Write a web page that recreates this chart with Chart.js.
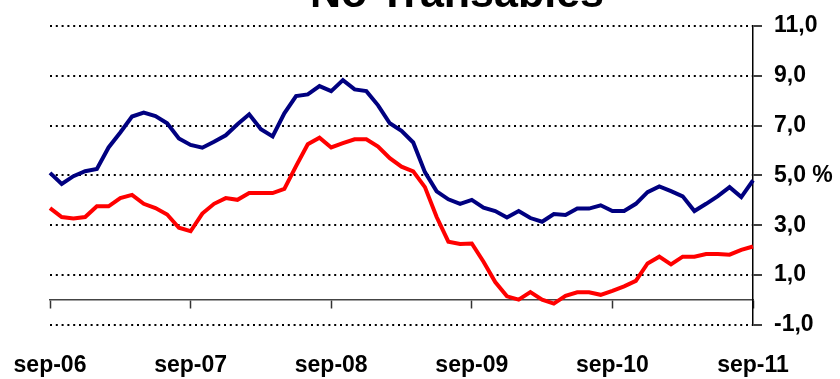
<!DOCTYPE html>
<html lang="es">
  <head>
    <meta charset="utf-8" />
    <script src="https://cdn.jsdelivr.net/npm/chart.js"></script>
    <style>
      html, body { margin: 0; padding: 0; background: #ffffff; }
      #wrap { width: 840px; height: 379px; position: relative; }
    </style>
  </head>
  <body>
    <div id="wrap"><canvas id="chart"></canvas></div>
    <script type="text/javascript">
      // meses sep-06 .. sep-11
      const meses = ['ene', 'feb', 'mar', 'abr', 'may', 'jun', 'jul', 'ago', 'sep', 'oct', 'nov', 'dic'];
      const labels = [];
      for (let i = 0; i <= 60; i++) {
        const m = (8 + i) % 12;
        const a = 6 + Math.floor((8 + i) / 12);
        labels.push(meses[m] + '-' + String(a).padStart(2, '0'));
      }

      // serie azul
      const serieAzul = [
        5.10, 4.66, 4.97, 5.17, 5.26, 6.12, 6.72, 7.36, 7.52, 7.38, 7.09, 6.48,
        6.22, 6.11, 6.35, 6.61, 7.05, 7.45, 6.85, 6.56, 7.49, 8.18, 8.25, 8.58,
        8.38, 8.82, 8.45, 8.38, 7.81, 7.09, 6.79, 6.32, 5.13, 4.36, 4.04, 3.86,
        4.02, 3.71, 3.57, 3.31, 3.57, 3.29, 3.14, 3.45, 3.41, 3.67, 3.67, 3.80,
        3.57, 3.57, 3.86, 4.33, 4.56, 4.37, 4.16, 3.57, 3.86, 4.17, 4.53, 4.13,
        4.80
      ];
      // serie roja
      const serieRoja = [
        3.69, 3.33, 3.27, 3.33, 3.76, 3.76, 4.09, 4.22, 3.86, 3.69, 3.43, 2.90,
        2.76, 3.47, 3.86, 4.09, 4.02, 4.29, 4.29, 4.29, 4.46, 5.37, 6.25, 6.51,
        6.12, 6.29, 6.45, 6.45, 6.16, 5.69, 5.35, 5.16, 4.53, 3.33, 2.34, 2.25,
        2.27, 1.54, 0.72, 0.15, 0.02, 0.32, 0.02, -0.14, 0.17, 0.31, 0.31, 0.21,
        0.37, 0.55, 0.77, 1.47, 1.74, 1.43, 1.74, 1.74, 1.85, 1.85, 1.82, 2.01,
        2.15
      ];

      const yTicks = { '-1': '-1,0', '1': '1,0', '3': '3,0', '5': '5,0 %', '7': '7,0', '9': '9,0', '11': '11,0' };
      const titulo = 'No Transables';

      const FONT = "'Liberation Sans', Arial, sans-serif";

      // titulo (queda cortado arriba)
      const tituloPlugin = {
        id: 'tituloPlugin',
        afterDraw(chart) {
          const ctx = chart.ctx;
          ctx.save();
          ctx.font = 'bold 43px ' + FONT;
          ctx.fillStyle = '#000';
          ctx.textAlign = 'center';
          ctx.textBaseline = 'alphabetic';
          ctx.fillText(titulo, 457, 7);
          ctx.restore();
        },
      };

      // sin relleno lateral automatico de los ejes x
      const sinRelleno = (s) => { s.paddingLeft = 0; s.paddingRight = 0; };

      new Chart(document.getElementById('chart'), {
        type: 'line',
        data: {
          labels: labels,
          datasets: [
            {
              data: serieAzul,
              borderColor: '#000080',
              borderWidth: 4,
              pointRadius: 0,
              tension: 0,
            },
            {
              data: serieRoja,
              borderColor: '#ff0000',
              borderWidth: 4,
              pointRadius: 0,
              tension: 0,
            },
          ],
        },
        options: {
          responsive: true,
          maintainAspectRatio: false,
          animation: false,
          layout: { padding: { left: 50, top: 22, right: 0, bottom: 0 } },
          plugins: { legend: { display: false }, tooltip: { enabled: false } },
          scales: {
            x: {
              position: 'bottom',
              grid: { display: false, drawTicks: false },
              border: { display: false },
              ticks: {
                autoSkip: false,
                maxRotation: 0,
                minRotation: 0,
                padding: 27,
                color: '#000',
                font: { family: FONT, size: 23, weight: 'bold' },
                callback: (v, i) => (i % 12 === 0 ? labels[i] : ''),
              },
              afterFit: (s) => { s.height = 54; sinRelleno(s); },
            },
            // eje en el cero
            x0: {
              type: 'category',
              position: { y: 0 },
              grid: {
                display: true,
                drawOnChartArea: false,
                drawTicks: true,
                tickLength: 8,
                tickWidth: 1.5,
                tickColor: (c) => (c.index % 12 === 0 ? '#333' : 'rgba(0,0,0,0)'),
              },
              border: { display: true, color: '#444', width: 1.5 },
              ticks: { display: false, autoSkip: false },
              afterFit: sinRelleno,
            },
            y: {
              position: 'right',
              min: -1,
              max: 11,
              grid: {
                color: '#000',
                lineWidth: 2,
                drawTicks: true,
                tickLength: 9,
                tickWidth: 1.5,
                tickColor: '#000',
                tickBorderDash: [],
              },
              border: { display: true, color: '#000', width: 1.5, dash: [2, 3.8] },
              ticks: {
                stepSize: 2,
                padding: 12,
                color: '#000',
                font: { family: FONT, size: 23, weight: 'bold' },
                callback: (v) => yTicks[String(v)] || '',
              },
              afterFit: (s) => { s.width = 87; },
            },
          },
        },
        plugins: [tituloPlugin],
      });
    </script>
  </body>
</html>
